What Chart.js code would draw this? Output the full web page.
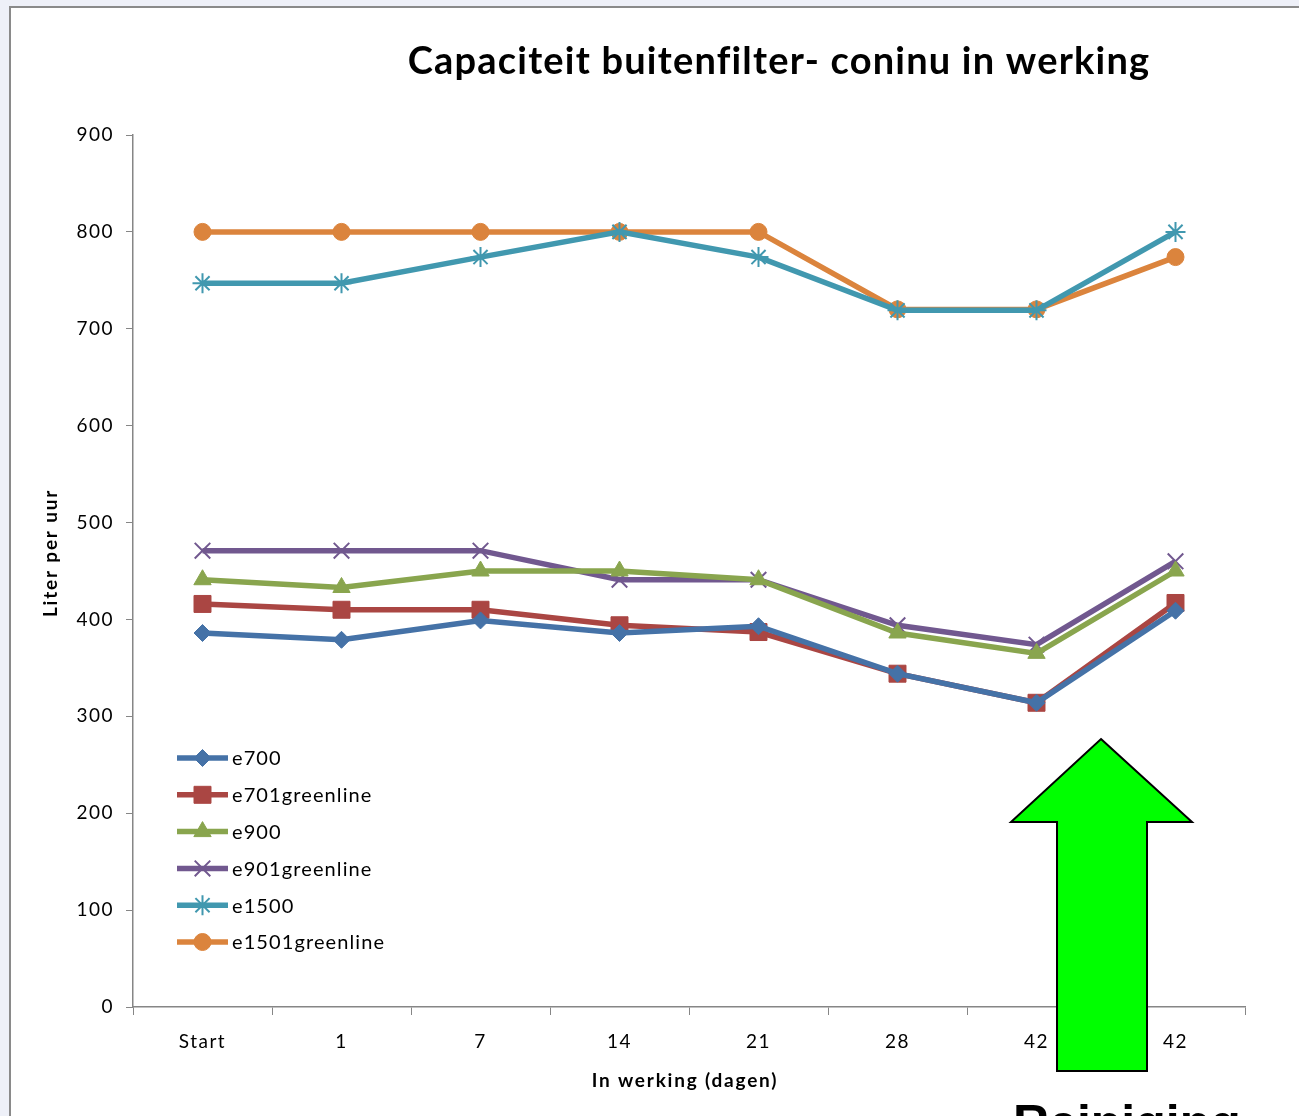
<!DOCTYPE html>
<html>
<head>
<meta charset="utf-8">
<script src="https://cdn.jsdelivr.net/npm/chart.js@4/dist/chart.umd.min.js"></script>
<style>
  html, body { margin: 0; padding: 0; background: #eef0f8; overflow: hidden; }
  #frame { position: absolute; left: 9px; top: 6px; width: 1400px; height: 1300px; background: #fff;
           border-left: 2px solid #8a8a8a; border-top: 2px solid #8a8a8a; }
  #wrap { position: absolute; left: 0; top: 0; width: 1299px; height: 1116px; }
</style>
</head>
<body>
<div id="frame"></div>
<div id="wrap"><canvas id="c" width="1299" height="1116"></canvas></div>
<script>
const categories = ["Start", "1", "7", "14", "21", "28", "42", "42"];
const e700 = [386, 379, 399, 386, 393, 344, 314, 409];
const e701greenline = [416, 410, 410, 394, 387, 344, 314, 417];
const e900 = [441, 433, 450, 450, 441, 386, 365, 450];
const e901greenline = [471, 471, 471, 441, 441, 394, 374, 460];
const e1500 = [747, 747, 774, 800, 774, 719, 719, 800];
const e1501greenline = [800, 800, 800, 800, 800, 720, 720, 774];
const yTicks = [0, 100, 200, 300, 400, 500, 600, 700, 800, 900];

const titleText = "Capaciteit buitenfilter- coninu in werking";
const yTitle = "Liter per uur";
const xTitle = "In werking (dagen)";
const noteText = "Reiniging";

const FONT = "Lato, 'Open Sans', sans-serif";

function ds(label, data, color, style, radius, bw) {
  return {
    label, data,
    borderColor: color, backgroundColor: color,
    pointBackgroundColor: color, pointBorderColor: color,
    pointStyle: style, pointRadius: radius, pointHoverRadius: radius,
    pointBorderWidth: bw, borderWidth: 5.5, tension: 0
  };
}

const datasets = [
  ds("e700", e700, "#4572A7", "rectRot", 8.5, 1),
  ds("e701greenline", e701greenline, "#AA4643", "rect", 12, 1),
  ds("e900", e900, "#89A54E", "triangle", 10, 1),
  ds("e901greenline", e901greenline, "#71588F", "crossRot", 11, 2),
  ds("e1500", e1500, "#4198AF", "star", 10, 2),
  ds("e1501greenline", e1501greenline, "#DB843D", "circle", 8.5, 1)
];

const spacing = {
  id: "spacing",
  beforeInit(chart) { chart.ctx.letterSpacing = "1.5px"; },
  beforeDraw(chart) { chart.ctx.letterSpacing = "1.5px"; }
};

const decor = {
  id: "decor",
  afterDraw(chart) {
    const ctx = chart.ctx;
    const area = chart.chartArea;
    ctx.save();
    // title
    ctx.fillStyle = "#000";
    ctx.letterSpacing = "1.2px";
    ctx.font = "bold 38px " + FONT;
    ctx.textAlign = "center";
    ctx.textBaseline = "middle";
    ctx.fillText(titleText, 779, 62);
    // y title
    ctx.save();
    ctx.translate(51, 553);
    ctx.rotate(-Math.PI / 2);
    ctx.letterSpacing = "1.8px";
    ctx.font = "bold 19px " + FONT;
    ctx.fillText(yTitle, 0, 0);
    ctx.restore();
    // x title
    ctx.letterSpacing = "1.8px";
    ctx.font = "bold 19px " + FONT;
    ctx.fillText(xTitle, (area.left + area.right) / 2 - 4, 1081);
    // legend
    ctx.textAlign = "left";
    ctx.letterSpacing = "1.1px";
    ctx.font = "20px " + FONT;
    chart.data.datasets.forEach((d, i) => {
      const y = 758 + i * 36.8;
      const x0 = area.left + 44, x1 = area.left + 95;
      ctx.strokeStyle = d.borderColor;
      ctx.lineWidth = 5.5;
      ctx.beginPath(); ctx.moveTo(x0, y); ctx.lineTo(x1, y); ctx.stroke();
      ctx.lineWidth = d.pointBorderWidth;
      ctx.fillStyle = d.backgroundColor;
      Chart.helpers.drawPoint(ctx, { pointStyle: d.pointStyle, radius: d.pointRadius, borderWidth: d.pointBorderWidth, rotation: 0 }, (x0 + x1) / 2, y);
      ctx.fillStyle = "#000";
      ctx.fillText(d.label, x1 + 4, y + 1);
    });
    // green arrow
    ctx.beginPath();
    ctx.moveTo(1101, 739);
    ctx.lineTo(1192, 822);
    ctx.lineTo(1147, 822);
    ctx.lineTo(1147, 1071);
    ctx.lineTo(1057, 1071);
    ctx.lineTo(1057, 822);
    ctx.lineTo(1011, 822);
    ctx.closePath();
    ctx.fillStyle = "#00ff00";
    ctx.fill();
    ctx.strokeStyle = "#000";
    ctx.lineWidth = 2;
    ctx.stroke();
    // note text (cut off at the bottom)
    ctx.fillStyle = "#000";
    ctx.letterSpacing = "0px";
    ctx.font = "bold 50px 'Liberation Sans', Arial, sans-serif";
    ctx.textAlign = "left";
    ctx.textBaseline = "alphabetic";
    ctx.fillText(noteText, 1013, 1140);
    ctx.restore();
  }
};

new Chart(document.getElementById("c"), {
  type: "line",
  data: { labels: categories, datasets },
  options: {
    responsive: false,
    animation: false,
    layout: { padding: { top: 135, right: 54, bottom: 0, left: 0 } },
    plugins: { legend: { display: false }, tooltip: { enabled: false }, title: { display: false } },
    scales: {
      x: {
        offset: true,
        grid: { display: true, drawOnChartArea: false, drawTicks: true, tickLength: 8, color: "#868686", offset: true },
        border: { color: "#868686", width: 1.5 },
        ticks: { color: "#000", font: { family: FONT, size: 19 }, padding: 15, maxRotation: 0, autoSkip: false },
        afterFit(scale) { scale.height = 109; }
      },
      y: {
        min: 0, max: 900,
        afterBuildTicks(scale) { scale.ticks = yTicks.map(v => ({ value: v })); },
        grid: { display: true, drawOnChartArea: false, drawTicks: true, tickLength: 7, color: "#868686" },
        border: { color: "#868686", width: 1.5 },
        ticks: { color: "#000", font: { family: FONT, size: 19 }, padding: 12 },
        afterFit(scale) { scale.width = 133; }
      }
    }
  },
  plugins: [spacing, decor]
});
</script>
</body>
</html>
